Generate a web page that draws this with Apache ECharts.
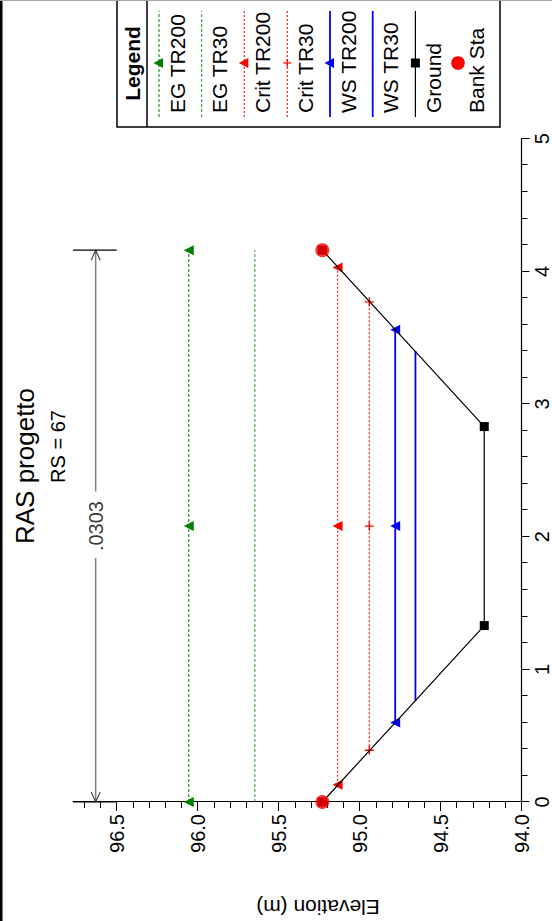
<!DOCTYPE html>
<html><head><meta charset="utf-8">
<script src="https://cdn.jsdelivr.net/npm/echarts@6/dist/echarts.min.js"></script>
<style>
html,body{margin:0;padding:0;width:552px;height:921px;overflow:hidden;background:#fff;}
#chart{position:absolute;left:0;top:0;width:921px;height:552px;transform-origin:0 0;transform:translateY(921px) rotate(-90deg);}
</style></head><body><div id="chart"></div>
<script>
// ---- data (station in m, elevation in m) ----
const titleText = 'RAS progetto';
const subtitleText = 'RS = 67';
const elevAxisName = 'Elevation (m)';
const elevMajorTicks = [94.0, 94.5, 95.0, 95.5, 96.0, 96.5];
const elevMinorTicks = [94.1, 94.2, 94.3, 94.4, 94.6, 94.7, 94.8, 94.9, 95.1, 95.2, 95.3, 95.4,
                        95.6, 95.7, 95.8, 95.9, 96.1, 96.2, 96.3, 96.4, 96.6, 96.7];
const elevMin = 94.0, elevMax = 96.77;
const stationMin = 0, stationMax = 5, stationStep = 1;

const groundStation = [0, 1.33, 2.83, 4.16];
const groundElev    = [95.23, 94.23, 94.23, 95.23];
const bankStation   = [0, 4.16];
const bankElev      = [95.23, 95.23];

const egTR200Station   = [0, 2.08, 4.16];
const egTR200Elev      = [96.055, 96.055, 96.055];
const egTR30Station    = [0, 4.16];
const egTR30Elev       = [95.647, 95.647];
const critTR200Station = [0.13, 2.08, 4.03];
const critTR200Elev    = [95.136, 95.136, 95.136];
const critTR30Station  = [0.39, 2.08, 3.77];
const critTR30Elev     = [94.94, 94.94, 94.94];
const wsTR200Station   = [0.60, 2.08, 3.56];
const wsTR200Elev      = [94.78, 94.78, 94.78];
const wsTR30Station    = [0.76, 3.40];
const wsTR30Elev       = [94.655, 94.655];

// Manning's n annotation
const nText = '.0303';
const nElev = 96.63;
const nLeftSeg  = [0, 1.84];
const nRightSeg = [2.34, 4.16];
const nLabelStation = 2.08;
const nCapElev = [96.5, 96.77];

const legendNames = ['EG TR200', 'EG TR30', 'Crit TR200', 'Crit TR30', 'WS TR200', 'WS TR30', 'Ground', 'Bank Sta'];

// ---- helpers ----
const zip = (xs, ys) => xs.map((x, i) => [x, ys[i]]);
const FONT = '"Liberation Sans", Arial, Helvetica, sans-serif';
const GREEN = '#008000', GREEN2 = '#2a8f2a', RED = '#ff0000', RED_DOT = '#ff2a2a', BLUE = '#0000ff';
const DOT = [2, 2];
const CROSS = 'path://M3.4,0H4.6V3.4H8V4.6H4.6V8H3.4V4.6H0V3.4H3.4Z';
const ARROW_L = 'path://M10,0L0,5L10,10';
const ARROW_R = 'path://M0,0L10,5L0,10';

const chart = echarts.init(document.getElementById('chart'), null, {renderer: 'svg', width: 921, height: 552});

// ---- legend (custom, symbol drawn above label) ----
const LX0 = 794, LX1 = 921, LY0 = 117, LY1 = 500;
const rowLineY = [159, 201.7, 244.3, 287.3, 330, 372.7, 415.4, 458];
const legendStyles = [
  {color: GREEN, dash: [3, 2], width: 1, marker: 'tri', mcolor: GREEN},
  {color: GREEN2, dash: [3, 2], width: 1, marker: null},
  {color: RED_DOT, dash: DOT, width: 1.3, marker: 'tri', mcolor: RED},
  {color: RED_DOT, dash: DOT, width: 1.3, marker: 'cross', mcolor: RED},
  {color: BLUE, dash: null, width: 1.8, marker: 'tri', mcolor: BLUE},
  {color: BLUE, dash: null, width: 1.8, marker: null},
  {color: '#000', dash: null, width: 1.2, marker: 'rect', mcolor: '#000'},
  {color: RED, dash: null, width: 0, marker: 'circle', mcolor: RED}
];
const graphics = [
  {type: 'rect', shape: {x: 0, y: 0, width: 921, height: 2.5}, style: {fill: '#000'}, z: 100},
  {type: 'rect', shape: {x: 920, y: 0, width: 1, height: 552}, style: {fill: '#a8a8a8'}, z: 100},
  {type: 'rect', shape: {x: LX0, y: LY0, width: 140, height: LY1 - LY0}, style: {fill: '#fff', stroke: '#000', lineWidth: 1.5}, z: 50},
  {type: 'line', shape: {x1: LX0, y1: 147, x2: LX1, y2: 147}, style: {stroke: '#000', lineWidth: 1.5}, z: 51},
  {type: 'text', x: 857.5, y: 132, style: {text: 'Legend', font: 'bold 21px ' + FONT, fill: '#000', textAlign: 'center', textVerticalAlign: 'middle'}, z: 51},
  {type: 'text', x: 455, y: 24.5, style: {text: titleText, font: '26px ' + FONT, fill: '#000', textAlign: 'center', textVerticalAlign: 'middle'}, z: 51},
  {type: 'text', x: 474.5, y: 57.5, style: {text: subtitleText, font: '20px ' + FONT, fill: '#000', textAlign: 'center', textVerticalAlign: 'middle'}, z: 51},
  {type: 'text', x: 14, y: 318, rotation: Math.PI / 2, style: {text: elevAxisName, font: '21px ' + FONT, fill: '#000', textAlign: 'center', textVerticalAlign: 'middle'}, z: 51}
];
legendNames.forEach((name, i) => {
  const st = legendStyles[i];
  const y = rowLineY[i];
  const mx = 858;
  if (st.width > 0) {
    graphics.push({type: 'line', shape: {x1: 804, y1: y, x2: 910, y2: y},
      style: {stroke: st.color, lineWidth: st.width, lineDash: st.dash || null}, z: 52});
  }
  if (st.marker === 'tri') {
    graphics.push({type: 'polygon', shape: {points: [[mx, y - 5.5], [mx + 5, y + 4], [mx - 5, y + 4]]}, style: {fill: st.mcolor}, z: 53});
  } else if (st.marker === 'cross') {
    graphics.push({type: 'line', shape: {x1: mx - 4, y1: y, x2: mx + 4, y2: y}, style: {stroke: st.mcolor, lineWidth: 1.2}, z: 53});
    graphics.push({type: 'line', shape: {x1: mx, y1: y - 4, x2: mx, y2: y + 4}, style: {stroke: st.mcolor, lineWidth: 1.2}, z: 53});
  } else if (st.marker === 'rect') {
    graphics.push({type: 'rect', shape: {x: mx - 4.5, y: y - 4.5, width: 9, height: 9}, style: {fill: st.mcolor}, z: 53});
  } else if (st.marker === 'circle') {
    graphics.push({type: 'circle', shape: {cx: mx, cy: y, r: 6.8}, style: {fill: st.mcolor}, z: 53});
  }
  graphics.push({type: 'text', x: 808, y: y + 18, style: {text: name, font: '21px ' + FONT, fill: '#000', textAlign: 'left', textVerticalAlign: 'middle'}, z: 53});
});

const lineSeries = (name, xs, ys, color, width, dash, symbol, size, z, symColor) => ({
  name, type: 'line', data: zip(xs, ys), z: z || 3,
  symbol: symbol || 'none', symbolSize: size || 10, showSymbol: !!symbol,
  lineStyle: {color, width, type: dash || 'solid', cap: 'butt'},
  itemStyle: {color: symColor || color}, emphasis: {disabled: true}, animation: false
});

const option = {
  animation: false,
  textStyle: {fontFamily: FONT},
  grid: {left: 119, right: 138.7, top: 73, bottom: 30.5, containLabel: false},
  xAxis: {
    type: 'value', min: stationMin, max: stationMax, interval: stationStep, position: 'bottom',
    axisLine: {show: true, onZero: false, lineStyle: {color: '#000', width: 1.2}},
    axisTick: {show: true, inside: false, length: 8, lineStyle: {color: '#000', width: 1}},
    minorTick: {show: true, splitNumber: 5, length: 6, lineStyle: {color: '#000', width: 1}},
    axisLabel: {fontSize: 20, color: '#000', margin: 10, fontFamily: FONT},
    splitLine: {show: false}, minorSplitLine: {show: false}
  },
  yAxis: [{
    type: 'value', min: elevMin, max: elevMax, position: 'left',
    axisLine: {show: true, onZero: false, lineStyle: {color: '#000', width: 1.2}},
    axisTick: {show: true, inside: false, length: 9, customValues: elevMajorTicks, lineStyle: {color: '#000', width: 1}},
    axisLabel: {customValues: elevMajorTicks, formatter: v => Number(v).toFixed(1), fontSize: 20, color: '#000', margin: 12, fontFamily: FONT},
    splitLine: {show: false}
  }, {
    type: 'value', min: elevMin, max: elevMax, position: 'left', offset: 0,
    axisLine: {show: false},
    axisTick: {show: true, inside: false, length: 6, customValues: elevMinorTicks, lineStyle: {color: '#000', width: 1}},
    axisLabel: {show: false},
    splitLine: {show: false}
  }],
  graphic: graphics,
  series: [
    lineSeries('EG TR200', egTR200Station, egTR200Elev, GREEN, 1, [3, 2], 'triangle', 10, 4),
    lineSeries('EG TR30', egTR30Station, egTR30Elev, GREEN2, 1, [3, 2], null, 0, 4),
    lineSeries('Crit TR200', critTR200Station, critTR200Elev, RED_DOT, 1.3, DOT, 'triangle', 10, 4, RED),
    lineSeries('Crit TR30', critTR30Station, critTR30Elev, RED_DOT, 1.3, DOT, CROSS, 9, 4, RED),
    lineSeries('WS TR200', wsTR200Station, wsTR200Elev, BLUE, 1.8, 'solid', 'triangle', 10, 4),
    lineSeries('WS TR30', wsTR30Station, wsTR30Elev, BLUE, 1.8, 'solid', null, 0, 4),
    lineSeries('Ground', groundStation, groundElev, '#000', 1.2, 'solid', 'rect', 9, 5),
    {name: 'Bank Sta', type: 'scatter', data: zip(bankStation, bankElev), symbol: 'circle', symbolSize: 14,
     itemStyle: {color: RED}, z: 6, animation: false, emphasis: {disabled: true}},
    // Manning's n dimension line
    {type: 'line', z: 3, animation: false, emphasis: {disabled: true}, lineStyle: {color: '#808080', width: 1.5},
     data: [
       {value: [nLeftSeg[0], nElev], symbol: ARROW_L, symbolSize: [10, 9], symbolOffset: [5, 0],
        itemStyle: {color: 'rgba(0,0,0,0)', borderColor: '#333', borderWidth: 1.1}},
       {value: [nLeftSeg[1], nElev], symbol: 'none'}
     ]},
    {type: 'line', z: 3, animation: false, emphasis: {disabled: true}, lineStyle: {color: '#808080', width: 1.5},
     data: [
       {value: [nRightSeg[0], nElev], symbol: 'none'},
       {value: [nRightSeg[1], nElev], symbol: ARROW_R, symbolSize: [10, 9], symbolOffset: [-5, 0],
        itemStyle: {color: 'rgba(0,0,0,0)', borderColor: '#333', borderWidth: 1.1}}
     ]},
    lineSeries('', [nRightSeg[1], nRightSeg[1]], nCapElev, '#000', 1.2, 'solid', null, 0, 3),
    lineSeries('', [nLeftSeg[0], nLeftSeg[0]], nCapElev, '#000', 1.2, 'solid', null, 0, 3),
    {type: 'scatter', data: [[nLabelStation, nElev]], symbol: 'circle', symbolSize: 1, z: 7,
     itemStyle: {color: 'rgba(0,0,0,0)'}, animation: false, emphasis: {disabled: true},
     label: {show: true, position: 'inside', formatter: nText, fontSize: 20, color: '#000', fontFamily: FONT}}
  ]
};
chart.setOption(option);
</script></body></html>
